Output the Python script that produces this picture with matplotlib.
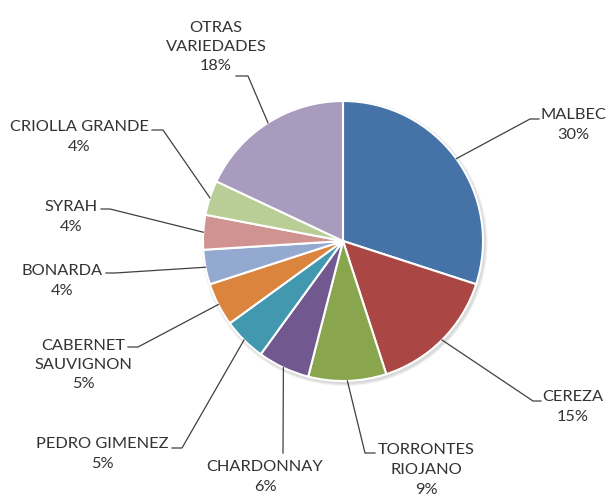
import numpy as np
import matplotlib.pyplot as plt

plt.rcParams['font.family'] = ['Lato', 'DejaVu Sans']

# data
varieties = ["MALBEC", "CEREZA", "TORRONTES\nRIOJANO", "CHARDONNAY", "PEDRO GIMENEZ",
             "CABERNET\nSAUVIGNON", "BONARDA", "SYRAH", "CRIOLLA GRANDE", "OTRAS\nVARIEDADES"]
shares = [30, 15, 9, 6, 5, 5, 4, 4, 4, 18]
colors = ["#4572A7", "#AA4643", "#89A54E", "#71588F", "#4198AF",
          "#DB843D", "#93A9CF", "#D19392", "#B9CD96", "#A99BBD"]

# layout (pixel coords, y down): text centre, leader elbow, leader end
text_xy = [(573, 125), (573, 407), (426, 470), (265, 477), (102, 454),
           (83, 365), (62, 281), (71, 217), (79, 137), (216, 47)]
elbow_xy = [(530, 119), (533, 401), (365, 453), (283, 453), (182, 448),
            (138, 347), (115, 273), (110, 209), (163, 130), (248, 76)]
end_xy = [(539, 119), (541, 401), (375, 453), (283, 453), (172, 448),
          (128, 347), (106, 273), (101, 209), (152, 130), (236, 76)]

cx, cy, r = 343, 241, 140

fig = plt.figure(figsize=(6.07, 5.00), dpi=100)
ax = fig.add_axes([0, 0, 1, 1])

# soft shadow
for k in range(3):
    ax.add_patch(plt.Circle((cx + 1.5, cy + 2), r + 1 + k, color='k', alpha=0.05, lw=0, zorder=0))

ax.pie(shares, colors=colors, startangle=-90, counterclock=True,
       center=(cx, cy), radius=r, frame=True,
       wedgeprops=dict(edgecolor='white', linewidth=1.5))
ax.set_xlim(0, 607)
ax.set_ylim(500, 0)
ax.set_aspect('equal')
ax.axis('off')

cum = np.cumsum([0] + shares[:-1])
total = float(sum(shares))
for i, lab in enumerate(varieties):
    mid = (cum[i] + shares[i] / 2) / total
    th = np.deg2rad(-90 + 360 * mid)
    sx, sy = cx + r * np.cos(th), cy + r * np.sin(th)
    ex, ey = elbow_xy[i]
    fx, fy = end_xy[i]
    ax.plot([sx, ex, fx], [sy, ey, fy], color='#404040', lw=0.9, zorder=3)
    ax.text(text_xy[i][0], text_xy[i][1], f"{lab}\n{shares[i]}%", ha='center', va='center',
            multialignment='center', fontsize=11.8, color='#333333', linespacing=1.5)

fig.savefig("out.png", dpi=100)
